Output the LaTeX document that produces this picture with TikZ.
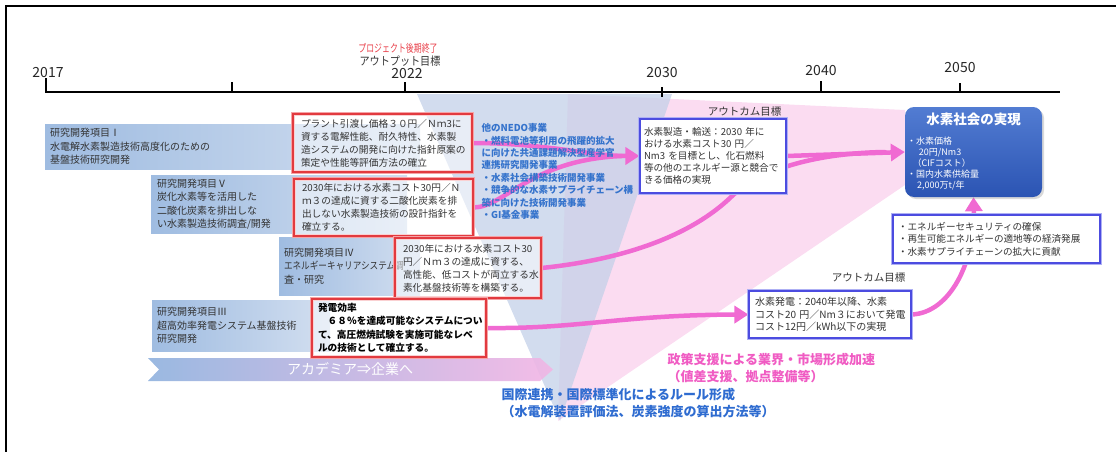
\documentclass[tikz,border=0pt]{standalone}
\usepackage{fontspec}
\setmainfont{Noto Sans CJK JP}
\usetikzlibrary{arrows.meta,shadows}
\definecolor{txt}{HTML}{333333}
\definecolor{barL}{HTML}{9FBCE1}
\definecolor{barR}{HTML}{D3DFF0}
\definecolor{redD}{HTML}{E23A3F}
\definecolor{redL}{HTML}{F5A3A6}
\definecolor{bluD}{HTML}{4C4CE0}
\definecolor{bluL}{HTML}{AEB0F4}
\definecolor{mag}{HTML}{F06AD2}
\definecolor{pinkbg}{HTML}{FBDCF1}
\definecolor{tribg}{HTML}{C3D0E8}
\definecolor{nedo}{HTML}{3573CC}
\definecolor{poltxt}{HTML}{F05CC3}
\definecolor{ruletxt}{HTML}{2F6CD0}
\definecolor{socT}{HTML}{527CD2}
\definecolor{socB}{HTML}{2B54B3}
\definecolor{banL}{HTML}{8FB1DE}
\definecolor{banR}{HTML}{F2B5E4}
\definecolor{redtxt}{HTML}{E8404A}
\pgfdeclarelayer{back}
\pgfdeclarelayer{mid}
\pgfsetlayers{back,mid,main}
\begin{document}
\begin{tikzpicture}[x=1pt,y=-1pt,
  barbox/.style={left color=barL,right color=barR,draw=none,inner sep=0pt,align=left,text=txt,font=\fontsize{10pt}{13.5pt}\selectfont},
  redbox/.style={draw=redD,line width=1.3pt,preaction={draw=redL,line width=3.4pt},fill=white,fill opacity=.5,text opacity=1,inner sep=0pt,align=left,text=txt,font=\fontsize{9.7pt}{13pt}\selectfont},
  outbox/.style={draw=bluD,line width=1.1pt,preaction={draw=bluL,line width=3.2pt},fill=white,inner sep=0pt,align=left,text=txt},
  conn/.style={draw=mag,line width=4.5pt,line cap=round},
  headed/.style={-{Triangle[length=14pt,width=17pt]}},
  tickmark/.style={line width=2.6pt},
  yearlbl/.style={font=\fontsize{14pt}{16pt}\selectfont,text=black!85},
  outlbl/.style={font=\fontsize{10.5pt}{12pt}\selectfont,text=txt,anchor=east},
]
\useasboundingbox (0,0) rectangle (1116,452);
% frame
\draw[line width=2pt] (6,452) -- (6,6) -- (1116,6);

% background wedges
\begin{pgfonlayer}{back}
\fill[pinkbg] (568,94) -- (905,110) -- (905,185) -- (558,421) -- cycle;
\fill[tribg,opacity=.75] (417,94) -- (672,94) -- (560,421) -- cycle;
\end{pgfonlayer}

% timeline
\draw[line width=2.6pt] (45,92) -- (1060,92);
\draw[tickmark] (46,78) -- (46,93);
\draw[tickmark] (232,82) -- (232,93);
\draw[tickmark] (405,82) -- (405,93);
\draw[tickmark] (662,87) -- (662,97);
\draw[tickmark] (821,81) -- (821,93);
\draw[tickmark] (960,83) -- (960,93);
\node[yearlbl] (y17) at (48,73) {2017};
\node[yearlbl] (y22) at (407,74) {2022};
\node[yearlbl] (y30) at (662,73) {2030};
\node[yearlbl] (y40) at (821,71) {2040};
\node[yearlbl] (y50) at (960,68) {2050};
\node[font=\fontsize{11pt}{12pt}\selectfont,text=redtxt] (pend) at (398,48) {\scalebox{0.72}[1]{プロジェクト後期終了}};
\node[font=\fontsize{11.5pt}{12pt}\selectfont,text=txt] (outp) at (400,61) {\scalebox{0.88}[1]{アウトプット目標}};

% research item bars
\node[barbox,minimum width=375pt,minimum height=45pt,text width=365pt] (b1) at (232.5,146.5)
  {研究開発項目Ⅰ\\水電解水素製造技術高度化のための\\基盤技術研究開発};
\node[barbox,minimum width=256pt,minimum height=58pt,text width=244pt] (b5) at (279,204)
  {研究開発項目Ⅴ\\炭化水素等を活用した\\二酸化炭素を排出しな\\い水素製造技術調査/開発};
\node[barbox,minimum width=141pt,minimum height=58pt,text width=131pt] (b4) at (349.5,266)
  {研究開発項目Ⅳ\\\scalebox{0.86}[1]{エネルギーキャリアシステム調}\\査・研究};
\node[barbox,minimum width=178pt,minimum height=51pt,text width=168pt] (b3) at (241,325.5)
  {研究開発項目Ⅲ\\超高効率発電システム基盤技術\\研究開発};

% banner
\shade[left color=banL,right color=banR,opacity=.9] (148,358) -- (540,358) -- (553,369.5) -- (540,381) -- (148,381) -- (159,369.5) -- cycle;
\node[text=white,font=\fontsize{14pt}{16pt}\selectfont] (ban) at (350,369.5) {アカデミア⇒企業へ};

% red output boxes
\node[redbox,minimum width=179pt,minimum height=58pt,text width=163pt] (r1) at (382.5,143)
  {プラント引渡し価格３０円／Ｎｍ3に\\資する電解性能、耐久特性、水素製\\造システムの開発に向けた指針原案の\\策定や性能等評価方法の確立};
\node[redbox,minimum width=179pt,minimum height=57pt,text width=163pt] (r5) at (383.5,207.5)
  {2030年における水素コスト30円／Ｎ\\ｍ３の達成に資する二酸化炭素を排\\出しない水素製造技術の設計指針を\\確立する。};
\node[redbox,minimum width=146pt,minimum height=60pt,text width=130pt] (r4) at (468,268)
  {2030年における水素コスト30\\円／Ｎｍ３の達成に資する、\\高性能、低コストが両立する水\\素化基盤技術等を構築する。};
\node[redbox,minimum width=174pt,minimum height=58pt,text width=162pt,text=black,font=\bfseries\fontsize{9.7pt}{13.5pt}\selectfont] (r3) at (399,328)
  {発電効率\\　６８％を達成可能なシステムについ\\て、高圧燃焼試験を実施可能なレベ\\ルの技術として確立する。};

% other NEDO projects
\node[anchor=north west,align=left,text=nedo,font=\bfseries\fontsize{9.5pt}{12.4pt}\selectfont] (nedo) at (478,120)
  {他のNEDO事業\\・燃料電池等利用の飛躍的拡大\\に向けた共通課題解決型産学官\\連携研究開発事業\\・水素社会構築技術開発事業\\・競争的な水素サプライチェーン構\\築に向けた技術開発事業\\・GI基金事業};

% outcome boxes
\node[outbox,minimum width=146pt,minimum height=74pt,text width=138pt,font=\fontsize{9.6pt}{12pt}\selectfont] (o30) at (713,156)
  {水素製造・輸送：2030~年に\\おける水素コスト30~円／\\Nm3~を目標とし、化石燃料\\等の他のエネルギー源と競合で\\きる価格の実現};
\node[outlbl] (l30) at (785,112) {アウトカム目標};
\node[outbox,minimum width=162pt,minimum height=47pt,text width=150pt,font=\fontsize{10pt}{12.5pt}\selectfont] (o40) at (830,314.5)
  {水素発電：2040年以降、水素\\コスト20~円／Nm３において発電\\コスト12円／kWh以下の実現};
\node[outlbl] (l40) at (909,278) {アウトカム目標};

% hydrogen society box
\node[rounded corners=9pt,minimum width=137pt,minimum height=90pt,top color=socT,bottom color=socB,draw=none,
  drop shadow={opacity=.3,shadow xshift=2pt,shadow yshift=-2pt}] (soc) at (973.5,152) {};
\node[text=white,font=\bfseries\fontsize{13.5pt}{15pt}\selectfont] (soct) at (973.5,119) {水素社会の実現};
\node[anchor=north west,align=left,text=white,font=\fontsize{9pt}{11pt}\selectfont,inner sep=0pt] (socb) at (907,137)
  {・水素価格\\\hspace*{1.3em}20円/Nm3\\\hspace*{0.6em}（CIFコスト）\\・国内水素供給量\\\hspace*{1.1em}2,000万t/年};

\node[outbox,minimum width=207pt,minimum height=48pt,text width=197pt,font=\fontsize{9.6pt}{12.5pt}\selectfont] (low) at (996.5,239)
  {・エネルギーセキュリティの確保\\・再生可能エネルギーの適地等の経済発展\\・水素サプライチェーンの拡大に貢献};

% captions
\node[anchor=north west,align=left,text=poltxt,font=\bfseries\fontsize{13pt}{17pt}\selectfont] (pol) at (664,350)
  {政策支援による業界・市場形成加速\\（値差支援、拠点整備等）};
\node[anchor=north west,align=left,text=ruletxt,font=\bfseries\fontsize{13pt}{16.5pt}\selectfont] (rul) at (498,385)
  {国際連携・国際標準化によるルール形成\\（水電解装置評価法、炭素強度の算出方法等）};

% connectors
\begin{pgfonlayer}{mid}
\draw[conn,headed] (r1.east) .. controls (545,143) and (590,156) .. (o30.west);
\draw[conn] (r5.east) .. controls (505,207) and (530,160) .. ([xshift=-18pt]o30.west);
\draw[conn] (r4.east) .. controls (600,262) and (680,245) .. (730,198) .. controls (760,168) and (820,153) .. ([xshift=-20pt]soc.west);
\draw[conn,headed] (o30.east) -- (soc.west);
\draw[conn,headed] (r3.east) .. controls (580,329) and (620,315) .. (o40.west);
\draw[conn,headed] (o40.east) .. controls (950,313) and (975,262) .. (soc.south);
\end{pgfonlayer}
\end{tikzpicture}
\end{document}
